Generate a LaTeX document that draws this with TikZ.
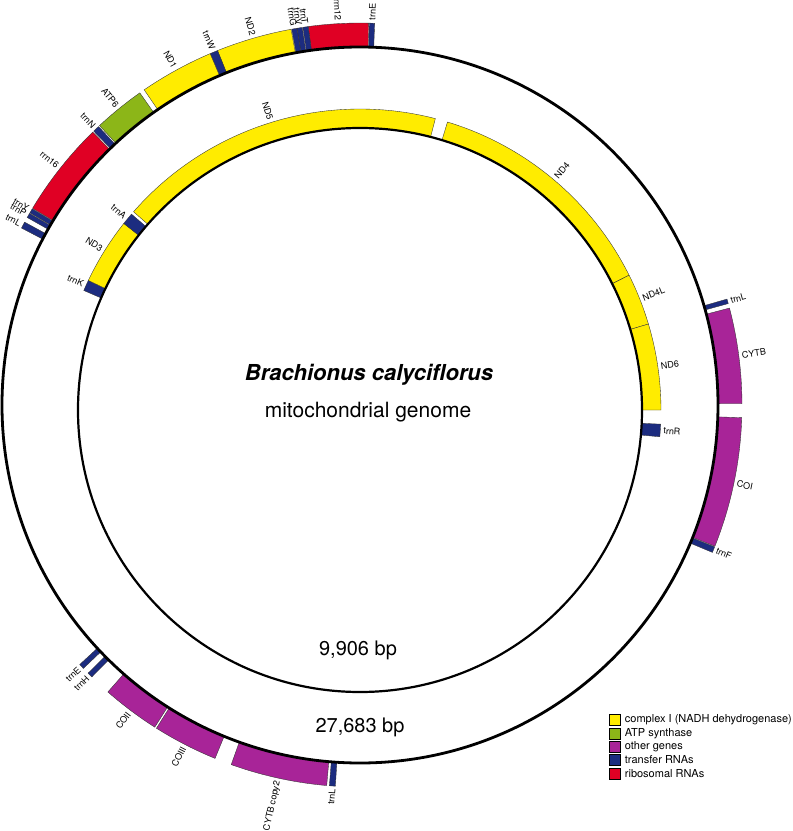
\documentclass[tikz,border=0pt]{standalone}
\usepackage{fontspec}
\setmainfont{TeX Gyre Heros}
\usetikzlibrary{positioning}

\definecolor{cplx}{RGB}{255,236,0}
\definecolor{atps}{RGB}{140,182,24}
\definecolor{other}{RGB}{168,36,152}
\definecolor{trna}{RGB}{28,44,128}
\definecolor{rrna}{RGB}{224,0,36}

\tikzset{
  genebar/.style={draw=black!80, line width=0.35pt},
  genelbl/.style={font=\fontsize{9}{10}\selectfont, inner sep=0pt},
  legbox/.style={draw=black, line width=0.4pt, minimum size=11pt, inner sep=0pt},
  legtxt/.style={font=\fontsize{11}{12}\selectfont, inner sep=0pt, anchor=west},
  bigtxt/.style={font=\fontsize{20}{24}\selectfont, anchor=base}
}

\newcounter{genenum}
\def\barw{24}
% #1 radius, #2 from, #3 to (degrees, clockwise from top), #4 colour, #5 label
\newcommand{\gene}[5]{%
  \stepcounter{genenum}%
  \pgfmathsetmacro{\ga}{90-(#2)}%
  \pgfmathsetmacro{\gb}{90-(#3)}%
  \pgfmathsetmacro{\gm}{((#2)+(#3))/2}%
  \pgfmathsetmacro{\gp}{90-\gm}%
  \pgfmathsetmacro{\gr}{#1+\barw}%
  \pgfmathsetmacro{\gl}{#1+\barw+3}%
  \filldraw[genebar, fill=#4] (\ga:#1) arc[start angle=\ga, end angle=\gb, radius=#1]
    -- (\gb:\gr) arc[start angle=\gb, end angle=\ga, radius=\gr] -- cycle;
  \ifdim\gm pt<180pt
    \node[genelbl, anchor=west, rotate=90-\gm] (g\arabic{genenum}) at (\gp:\gl) {#5};
  \else
    \node[genelbl, anchor=east, rotate=270-\gm] (g\arabic{genenum}) at (\gp:\gl) {#5};
  \fi}

\begin{document}
\begin{tikzpicture}[x=1pt, y=1pt]
  \useasboundingbox (-360,-426) rectangle (433,405);

  % outer genome, 27,683 bp
  \def\barw{24}
  \gene{358}{1.4}{2.2}{trna}{trnE}
  \gene{358}{352.2}{361.3}{rrna}{rrn12}
  \gene{358}{351.4}{352.2}{trna}{trnT}
  \gene{358}{350.5}{351.3}{trna}{trnV}
  \gene{358}{349.7}{350.5}{trna}{trnG}
  \gene{358}{338.1}{349.6}{cplx}{ND2}
  \gene{358}{336.9}{338.1}{trna}{trnW}
  \gene{358}{325.6}{336.9}{cplx}{ND1}
  \gene{358}{317.0}{324.8}{atps}{ATP6}
  \gene{358}{315.8}{316.8}{trna}{trnN}
  \gene{358}{301.0}{315.6}{rrna}{rrn16}
  \gene{358}{300.2}{300.9}{trna}{trnY}
  \gene{358}{299.4}{300.1}{trna}{trnP}
  \gene{358}{297.6}{298.6}{trna}{trnL}
  \gene{358}{73.9}{74.6}{trna}{trnL}
  \gene{358}{75.3}{89.8}{other}{CYTB}
  \gene{358}{91.9}{111.7}{other}{COI}
  \gene{358}{111.8}{112.7}{trna}{trnF}
  \gene{358}{183.7}{184.6}{trna}{trnL}
  \gene{358}{185.0}{199.7}{other}{CYTB copy2}
  \gene{358}{202.3}{212.2}{other}{COIII}
  \gene{358}{212.5}{221.3}{other}{COII}
  \gene{358}{224.6}{225.4}{trna}{trnH}
  \gene{358}{226.4}{227.2}{trna}{trnE}
  \draw[line width=2.8pt] (0,0) circle[radius=358];

  % inner genome, 9,906 bp
  \begin{scope}[shift={(0,-5)}]
    \def\barw{19}
    \gene{282}{311.2}{374.5}{cplx}{ND5}
    \gene{282}{16.9}{63.4}{cplx}{ND4}
    \gene{282}{63.4}{73.4}{cplx}{ND4L}
    \gene{282}{73.4}{90.0}{cplx}{ND6}
    \gene{282}{92.7}{95.1}{trna}{trnR}
    \gene{282}{293.4}{295.5}{trna}{trnK}
    \gene{282}{295.5}{308.3}{cplx}{ND3}
    \gene{282}{308.3}{310.6}{trna}{trnA}
    \draw[line width=2.2pt] (0,0) circle[radius=282];
  \end{scope}

  \node[bigtxt, font=\fontsize{22}{26}\selectfont\bfseries\itshape] (title) at (9,25) {Brachionus calyciflorus};
  \node[bigtxt, font=\fontsize{21}{25}\selectfont] (sub) at (8,-12) {mitochondrial genome};
  \node[bigtxt] (innerbp) at (-2,-250) {9,906 bp};
  \node[bigtxt] (outerbp) at (0,-327) {27,683 bp};

  % legend
  \foreach \col/\txt [count=\i] in {cplx/complex I (NADH dehydrogenase), atps/ATP synthase,
      other/other genes, trna/transfer RNAs, rrna/ribosomal RNAs} {
    \node[legbox, fill=\col] (leg\i) at (255,{-315-13.3*(\i-1)}) {};
    \node[legtxt, right=4pt of leg\i] (legt\i) {\txt};
  }
\end{tikzpicture}
\end{document}
